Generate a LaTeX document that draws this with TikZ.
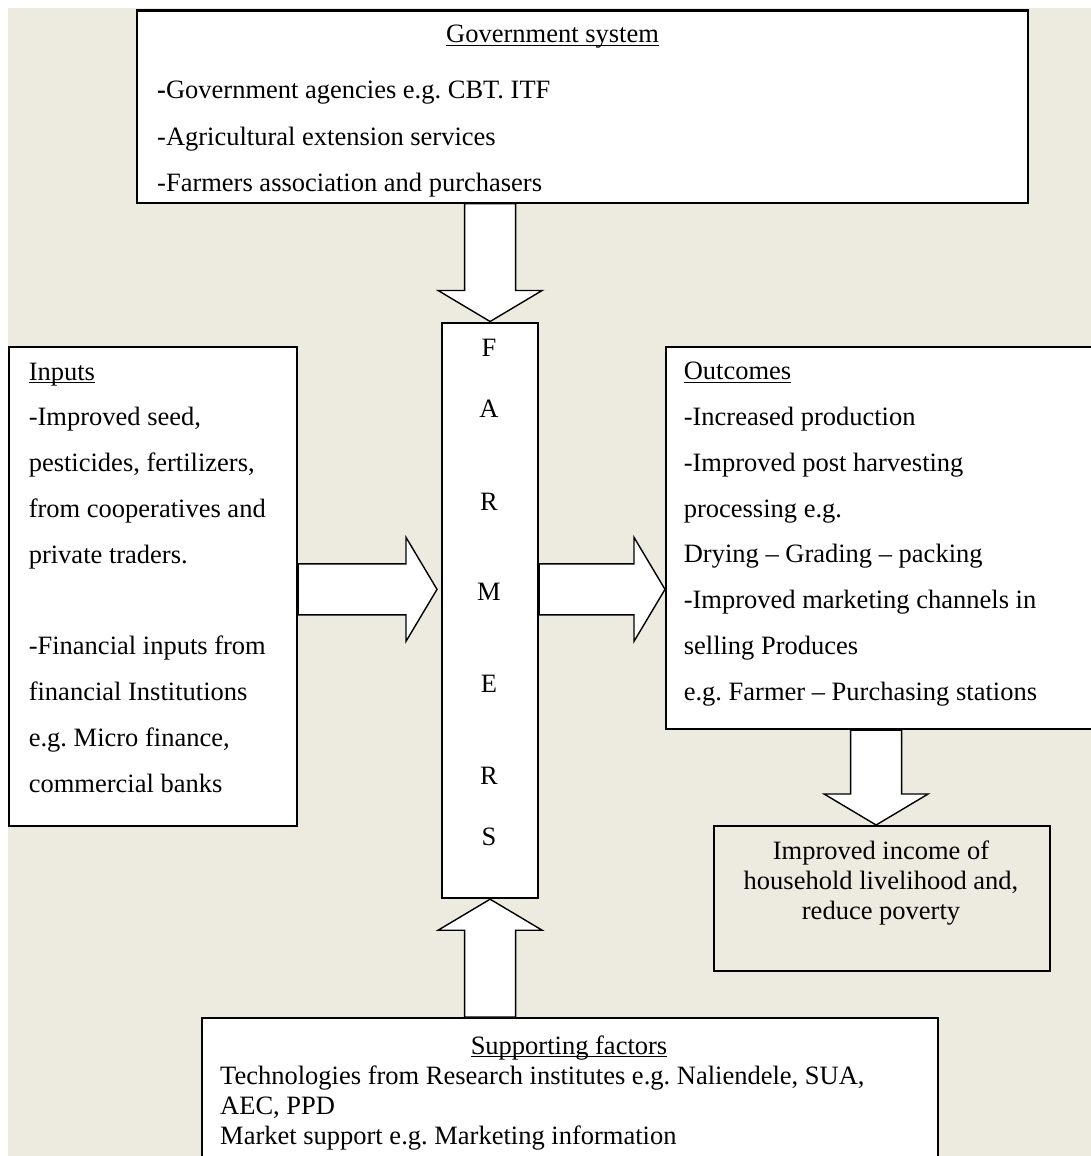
\documentclass[tikz,border=0pt]{standalone}
\usepackage{fontspec}
\setmainfont{Liberation Serif}
\usetikzlibrary{calc}
\definecolor{paper}{RGB}{237,234,224}
\newcommand{\undl}[1]{\setbox0=\hbox{#1}\rlap{\rule[-3pt]{\wd0}{1.2pt}}#1}
\newcommand{\boxfont}{\fontsize{26.5}{45.8}\selectfont\frenchspacing}
\tikzset{
    fatarrow/.style={draw, fill=white, line width=1.4pt, line join=miter,
        to path={
            ($(\tikztostart)!25.5pt!90:(\tikztotarget)$)
            -- ($(\tikztotarget)!31pt!(\tikztostart)!25.5pt!-90:(\tikztostart)$)
            -- ($(\tikztotarget)!31pt!(\tikztostart)!52pt!-90:(\tikztostart)$)
            -- (\tikztotarget)
            -- ($(\tikztotarget)!31pt!(\tikztostart)!52pt!90:(\tikztostart)$)
            -- ($(\tikztotarget)!31pt!(\tikztostart)!25.5pt!90:(\tikztostart)$)
            -- ($(\tikztostart)!25.5pt!-90:(\tikztotarget)$)
            -- cycle}}
}
\begin{document}
\begin{tikzpicture}[x=1pt, y=-1pt]
\useasboundingbox (0,0) rectangle (1091,1156);
\fill[paper] (8,8) rectangle (1091,1156);
\begin{scope}[every node/.style={draw, line width=2.2pt, fill=white, anchor=north west, inner sep=0pt}]
    \node[minimum width=891pt, minimum height=192pt] (gov) at (136,9.5) {};
    \node[minimum width=96pt, minimum height=575.5pt] (farm) at (441,321.5) {};
    \node[minimum width=288pt, minimum height=479.5pt] (inp) at (8,345.5) {};
    \node[minimum width=435pt, minimum height=382pt] (out) at (665,346) {};
    \node[minimum width=336pt, minimum height=145pt, fill=none] (inc) at (713,825) {};
    \node[minimum width=736pt, minimum height=163pt] (supp) at (201,1017) {};
\end{scope}
\begin{scope}[every node/.style={font=\boxfont, anchor=north west, inner sep=0pt, align=left}]
    \node[anchor=base west] (govtitle) at (446,43) {\undl{Government system}};
    \node[font=\fontsize{26.5}{46.3}\selectfont\frenchspacing] (govtext) at (157,81) {{\bfseries -}Government agencies e.g. CBT. ITF\\
        -Agricultural extension services\\
        -Farmers association and purchasers};
    \node (inptext) at (28.6,362.5) {\undl{Inputs}\\
        -Improved seed,\\
        pesticides, fertilizers,\\
        from cooperatives and\\
        private traders.\\[45.8pt]
        -Financial inputs from\\
        financial Institutions\\
        e.g. Micro finance,\\
        commercial banks};
    \node (outtext) at (683.6,362) {\undl{Outcomes}\\
        -Increased production\\
        -Improved post harvesting\\
        processing e.g.\\
        Drying – Grading – packing\\
        -Improved marketing channels in\\
        selling Produces\\
        e.g. Farmer – Purchasing stations};
    \node[anchor=north, align=center, font=\fontsize{26.5}{30}\selectfont\frenchspacing] (inctext) at (881,841) {Improved income of\\
        household livelihood and,\\
        reduce poverty};
    \node[anchor=base] (supptitle) at (569,1054) {\undl{Supporting factors}};
    \node[font=\fontsize{26.5}{30}\selectfont\frenchspacing] (supptext) at (220,1066) {Technologies from Research institutes e.g. Naliendele, SUA,\\
        AEC, PPD\\
        Market support e.g. Marketing information};
    % letters down the farmers box
    \foreach \letr/\yy [count=\i] in {F/348,A/409,R/502,M/592,E/684,R/776,S/837}
        \node[anchor=center] (farm\i) at (489,\yy) {\letr};
\end{scope}
% arrow lines sit a little off the box centres
\coordinate (inmid) at ([yshift=-3pt]inp.east);
\coordinate (incin) at ([xshift=-6pt]inc.north);
\begin{scope}[every edge/.style={fatarrow}]
    \path (gov.south -| farm.north) edge (farm.north);
    \path (inmid) edge ([xshift=-4pt]inmid -| farm.west);
    \path (farm.east |- inmid) edge (inmid -| out.west);
    \path (incin |- out.south) edge (incin);
    \path (supp.north -| farm.south) edge (farm.south);
\end{scope}
\end{tikzpicture}
\end{document}
